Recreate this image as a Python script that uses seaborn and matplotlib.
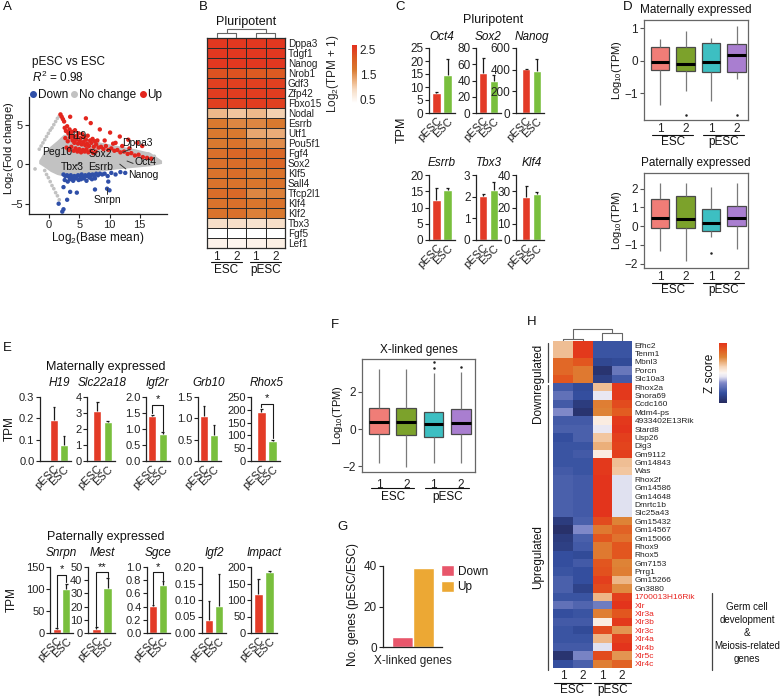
import numpy as np
import pandas as pd
import matplotlib
matplotlib.use("Agg")
import matplotlib.pyplot as plt
from matplotlib.colors import LinearSegmentedColormap
from matplotlib.lines import Line2D
from matplotlib.patches import Patch
from matplotlib.ticker import FormatStrFormatter
import seaborn as sns

# ---------------- data ----------------
# A: MA plot (log2 base mean, log2 fold change)
ma_up_x = [1.9, 2.1, 2.3, 2.5, 3.5, 6.1, 6.9, 8.4, 10.1, 11.7, 13.1, 14.6, 15.4, 11.0,
           2.6, 2.8, 3.0, 3.2, 3.4, 3.6, 3.8, 4.0, 4.3, 4.6, 4.9, 5.2, 5.5, 5.8, 6.1, 6.4, 6.8, 7.2, 7.6, 8.0,
           2.7, 3.1, 3.5, 3.9, 4.2, 4.5, 4.8, 5.1, 5.4, 5.7, 6.0, 6.3, 6.6, 7.0, 7.4, 7.8, 8.2,
           2.9, 3.3, 3.7, 4.1, 4.4, 4.7, 5.0, 5.3, 5.6, 5.9, 6.2, 6.5, 6.9, 7.3, 7.7,
           8.6, 9.0, 9.4, 9.8, 10.3, 10.8, 11.3, 11.8, 12.4, 13.0, 13.6, 14.2, 14.8, 15.5, 16.2, 16.9,
           9.2, 10.6, 12.1, 13.3]
ma_up_y = [6.3, 6.0, 5.7, 5.4, 6.0, 5.8, 5.2, 4.4, 4.0, 3.5, 3.1, 2.7, 2.3, 2.7,
           4.6, 4.2, 4.8, 3.9, 4.4, 3.7, 4.1, 3.5, 4.3, 3.6, 3.9, 3.3, 3.8, 3.4, 3.1, 3.6, 3.0, 3.2, 2.9, 3.0,
           3.3, 2.9, 3.4, 3.0, 2.7, 3.1, 2.6, 2.9, 2.5, 2.8, 2.4, 2.6, 2.3, 2.7, 2.2, 2.5, 2.1,
           2.1, 1.8, 2.2, 1.7, 2.0, 1.6, 1.9, 1.5, 1.8, 1.6, 1.9, 1.5, 1.7, 1.4, 1.6,
           2.2, 1.9, 2.3, 1.8, 2.0, 1.7, 1.8, 1.5, 1.6, 1.3, 1.4, 1.1, 1.2, 0.9, 0.8, 0.7,
           3.0, 2.6, 2.3, 2.0]
ma_down_x = [2.4, 2.7, 3.0, 3.3, 3.6, 3.9, 4.2, 4.5, 4.8, 5.1, 5.4, 5.7, 6.0, 6.3, 6.6, 6.9, 7.2, 7.5, 7.8, 8.1, 8.4, 8.8,
             2.6, 3.1, 3.5, 4.0, 4.4, 4.9, 5.3, 5.8, 6.2, 6.7, 7.1, 7.6,
             9.2, 9.7, 10.3, 11.0, 11.8, 12.6,
             2.4, 3.5, 3.0, 4.6, 7.6, 9.8, 9.6, 10.0, 1.6, 2.4, 2.2]
ma_down_y = [-1.3, -1.5, -1.4, -1.6, -1.4, -1.7, -1.5, -1.6, -1.4, -1.5, -1.3, -1.6, -1.4, -1.5, -1.3, -1.4, -1.3, -1.5, -1.2, -1.4, -1.2, -1.3,
             -2.0, -2.2, -1.9, -2.1, -1.8, -2.0, -1.9, -1.8, -2.1, -1.7, -1.9, -1.8,
             -1.2, -1.5, -1.1, -1.3, -1.0, -1.1,
             -2.9, -3.5, -4.5, -3.6, -3.2, -2.2, -3.1, -3.3, -5.0, -5.7, -6.0]
ma_nc_x = [-1.6, -1.3, -1.0, -0.7, -0.4, -0.1, 0.2, 0.5, 0.8, 1.1, 1.4, 1.7,
           -0.7, -0.4, -0.1, 0.2, 0.5, 0.8, 1.1, 1.4, 1.7,
           -2.3, 17.4, 17.9, 16.4]
ma_nc_y = [1.9, 2.3, 2.7, 3.1, 3.5, 3.9, 4.3, 4.6, 5.0, 5.4, 5.8, 6.1,
           -0.8, -1.3, -1.7, -2.2, -2.7, -3.1, -3.6, -4.0, -4.5,
           -0.6, 1.0, 0.4, 1.3]
# outline of the dense "no change" cloud
cloud_x = [-1.7, -0.9, 0.2, 1.3, 2.4, 5.1, 8.4, 11.1, 13.9, 16.7, 18.6]
cloud_hi = [0.5, 1.5, 2.3, 3.0, 3.8, 3.6, 2.8, 2.4, 2.0, 1.5, 0.5]
cloud_lo = [0.1, -0.3, -0.9, -1.3, -1.5, -1.3, -0.9, -0.6, -0.4, -0.2, 0.1]
ma_genes = ['H19', 'Dppa3', 'Peg10', 'Sox2', 'Oct4', 'Tbx3', 'Esrrb', 'Nanog', 'Snrpn']
ma_lab_x = [4.6, 14.6, 1.3, 8.5, 15.9, 3.9, 8.5, 15.6, 9.7]
ma_lab_y = [3.6, 2.7, 1.5, 1.3, 0.3, -0.4, -0.4, -1.4, -4.5]
ma_leaders = [((12.2, 1.5), (13.4, 1.9)), ((12.9, 0.4), (13.9, 0.1)), ((4.5, -0.2), (5.1, 0.1)),
              ((11.7, 0.0), (12.7, -0.6)), ((9.6, -3.0), (9.6, -3.8))]

# B: pluripotency heatmap, log2(TPM + 1)
pluri_genes = ['Dppa3', 'Tdgf1', 'Nanog', 'Nrob1', 'Gdf3', 'Zfp42', 'Fbxo15', 'Nodal', 'Esrrb', 'Utf1',
               'Pou5f1', 'Fgf4', 'Sox2', 'Klf5', 'Sall4', 'Tfcp2l1', 'Klf4', 'Klf2', 'Tbx3', 'Fgf5', 'Lef1']
pluri_esc1 = [2.6, 2.6, 2.6, 2.3, 2.5, 2.55, 2.5, 1.2, 1.7, 1.7, 1.7, 1.85, 1.85, 1.8, 1.8, 1.9, 1.8, 1.8, 0.85, 0.3, 0.55]
pluri_esc2 = [2.6, 2.6, 2.6, 2.3, 2.5, 2.55, 2.5, 1.1, 1.6, 1.7, 1.8, 2.0, 1.9, 1.9, 1.8, 1.95, 1.85, 1.85, 0.85, 0.3, 0.5]
pluri_pesc1 = [2.6, 2.6, 2.6, 2.2, 2.5, 2.55, 2.55, 1.2, 1.6, 1.35, 1.6, 1.95, 1.85, 1.7, 1.75, 1.6, 1.75, 1.65, 0.8, 0.3, 0.55]
pluri_pesc2 = [2.6, 2.6, 2.6, 2.2, 2.5, 2.55, 2.5, 1.0, 1.7, 1.3, 1.55, 1.95, 2.0, 1.8, 1.8, 1.65, 1.8, 1.7, 0.85, 0.3, 0.6]

# C: pluripotency markers, TPM (mean, sd)
c_genes = ['Oct4', 'Sox2', 'Nanog', 'Esrrb', 'Tbx3', 'Klf4']
c_pesc = [7.7, 49.5, 405, 12.4, 2.03, 26.5]
c_pesc_sd = [0.3, 18, 5, 3.6, 0.1, 6.5]
c_esc = [14.7, 39, 385, 15.5, 2.3, 28.3]
c_esc_sd = [6, 8, 112, 0.4, 0.4, 1.0]
c_ymax = [25, 80, 600, 20, 3, 40]
c_step = [5, 20, 200, 5, 1, 10]

# D / F: box summaries (low whisker, q1, median, q3, high whisker) of log10(TPM)
samples = ['ESC 1', 'ESC 2', 'pESC 1', 'pESC 2']
mat_stats = {'ESC 1': [-1.38, -0.30, -0.03, 0.42, 0.68],
             'ESC 2': [-0.94, -0.33, -0.09, 0.41, 0.92],
             'pESC 1': [-1.24, -0.36, -0.03, 0.54, 0.71],
             'pESC 2': [-0.58, -0.36, 0.18, 0.52, 1.07]}
mat_out = {'ESC 2': [-1.68], 'pESC 2': [-1.68]}
pat_stats = {'ESC 1': [-1.32, -0.09, 0.41, 1.42, 2.31],
             'ESC 2': [-1.85, -0.09, 0.37, 1.62, 2.31],
             'pESC 1': [-0.60, -0.25, 0.18, 0.89, 2.06],
             'pESC 2': [-1.24, 0.00, 0.41, 1.08, 2.28]}
pat_out = {'pESC 1': [-1.42]}
xl_stats = {'ESC 1': [-1.84, -0.29, 0.39, 1.15, 3.23],
            'ESC 2': [-2.05, -0.32, 0.38, 1.12, 3.23],
            'pESC 1': [-1.84, -0.43, 0.27, 0.94, 3.00],
            'pESC 2': [-1.82, -0.29, 0.34, 1.08, 3.10]}
xl_out = {'pESC 1': [3.28, 3.64], 'pESC 2': [3.37]}

# E: imprinted genes, TPM (mean, sd)
mat_genes = ['H19', 'Slc22a18', 'Igf2r', 'Grb10', 'Rhox5']
mat_pesc = [0.19, 3.15, 1.40, 1.06, 190]
mat_pesc_sd = [0.065, 0.55, 0.05, 0.23, 15]
mat_esc = [0.077, 2.45, 0.83, 0.62, 77]
mat_esc_sd = [0.04, 0.05, 0.07, 0.23, 6]
mat_ymax = [0.3, 4, 2.0, 1.5, 250]
mat_step = [0.1, 1, 0.5, 0.5, 50]
mat_fmt = ['%.1f', '%d', '%.1f', '%.1f', '%d']
mat_sig = {'Igf2r': ('*', 1.75), 'Rhox5': ('*', 222)}
pat_genes = ['Snrpn', 'Mest', 'Sgce', 'Igf2', 'Impact']
pat_pesc = [9, 3, 0.41, 0.04, 118]
pat_pesc_sd = [1.5, 1.2, 0.01, 0.057, 45]
pat_esc = [99, 34, 0.72, 0.082, 186]
pat_esc_sd = [13, 7.5, 0.07, 0.097, 1]
pat_ymax = [150, 50, 1.0, 0.20, 200]
pat_step = [50, 10, 0.2, 0.05, 50]
pat_fmt = ['%d', '%d', '%.1f', '%.2f', '%d']
pat_sig = {'Snrpn': ('*', 132), 'Mest': ('**', 46), 'Sgce': ('*', 0.92)}

# G: X-linked DEGs
g_dir = ['Down', 'Up']
g_count = [5, 39]

# H: X-linked DEG heatmap, z score
h_genes = ['Efhc2', 'Tenm1', 'Mbnl3', 'Porcn', 'Slc10a3', 'Rhox2a', 'Snora69', 'Ccdc160', 'Mdm4-ps',
           '4933402E13Rik', 'Stard8', 'Usp26', 'Dlg3', 'Gm9112', 'Gm14843', 'Was', 'Rhox2f', 'Gm14586',
           'Gm14648', 'Dmrtc1b', 'Slc25a43', 'Gm15432', 'Gm14567', 'Gm15066', 'Rhox9', 'Rhox5', 'Gm7153',
           'Prrg1', 'Gm15266', 'Gn3880', '1700013H16Rik', 'Xlr', 'Xlr3a', 'Xlr3b', 'Xlr3c', 'Xlr4a',
           'Xlr4b', 'Xlr5c', 'Xlr4c']
h_esc1 = [0.45, 0.45, 1.05, 1.05, 1.2, -0.9, -0.7, -0.9, -0.5, -0.9, -0.85, -1.0, -0.95, -0.95, -0.95,
          -0.9, -0.85, -0.85, -0.85, -0.85, -0.85, -1.25, -1.4, -1.25, -1.2, -1.0, -1.0, -0.95, -0.85,
          -0.85, -0.95, -0.7, -1.0, -0.9, -0.95, -0.95, -0.9, -1.35, -1.0]
h_esc2 = [1.45, 1.45, 1.2, 0.9, 0.9, -1.05, -1.0, -1.25, -1.35, -0.9, -0.85, -0.85, -0.95, -0.9, -0.95,
          -0.95, -0.9, -0.9, -0.9, -0.9, -0.9, -0.85, -0.5, -0.85, -0.9, -1.05, -0.9, -1.0, -1.0,
          -1.15, -0.95, -0.8, -0.95, -0.9, -1.05, -0.95, -0.9, -0.55, -0.85]
h_pesc1 = [-0.95, -0.95, -1.1, -1.35, -1.2, 0.45, -0.15, 0.85, 0.8, 0.1, -0.15, 0.4, 0.55, 0.1, 1.45,
           1.45, 1.5, 1.5, 1.5, 1.5, 1.5, 1.3, 0.9, 1.2, 0.9, 0.9, 1.2, 1.25, 1.4,
           1.3, 0.5, -0.6, 0.85, 0.1, 1.3, 0.5, -0.2, 1.3, 0.85]
h_pesc2 = [-0.95, -0.95, -1.05, -0.65, -0.9, 1.45, 1.45, 1.3, 1.15, 1.45, 1.5, 1.4, 1.35, 1.4, 0.45,
           0.4, -0.2, -0.2, -0.2, -0.2, -0.2, 0.8, 1.1, 0.95, 1.2, 1.2, 0.8, 0.85, 0.5,
           0.75, 1.4, 1.5, 1.2, 1.45, 0.7, 1.4, 1.5, 0.7, 1.1]
h_n_down = 5
h_germ_from = 30

# ---------------- style ----------------
sns.set_theme(style="ticks")
plt.rcParams['font.family'] = ['Liberation Sans', 'DejaVu Sans']
plt.rcParams['mathtext.fontset'] = 'custom'
plt.rcParams['mathtext.rm'] = 'Liberation Sans'
plt.rcParams['mathtext.it'] = 'Liberation Sans:italic'
plt.rcParams['axes.linewidth'] = 0.9
plt.rcParams['axes.edgecolor'] = '#222222'
plt.rcParams['xtick.color'] = '#222222'
plt.rcParams['ytick.color'] = '#222222'
plt.rcParams['text.color'] = '#111111'

RED, GREEN = '#e33b27', '#79bf3d'
MA_RED, MA_BLUE, MA_GREY = '#e3261e', '#2f4fa8', '#c2c2c2'
BOX_COLORS = ['#f07d77', '#7ca22b', '#3dbfc2', '#a97ed0']
G_COLORS = ['#e8566b', '#eca834']
GERM_RED = '#e8231f'
cmap_b = LinearSegmentedColormap.from_list(
    'pluri', [(0.0, '#ffffff'), (0.23, '#f6dcc4'), (0.36, '#eeb88a'), (0.58, '#d9782e'),
              (0.79, '#dc5a22'), (1.0, '#e3301f')])
cmap_h = LinearSegmentedColormap.from_list(
    'zscore', [(0.0, '#252a5e'), (0.167, '#344f9f'), (0.333, '#7f88c8'), (0.433, '#e2e2f1'),
               (0.5, '#fbf6f3'), (0.6, '#f7d8bd'), (0.767, '#de8436'), (0.9, '#e2571f'), (1.0, '#e3341c')])

W, H = 780, 697
fig = plt.figure(figsize=(W / 100, H / 100), dpi=100)


def px_axes(x0, y0, x1, y1):
    return fig.add_axes([x0 / W, 1 - y1 / H, (x1 - x0) / W, (y1 - y0) / H])


def px_text(x, y, s, **kw):
    kw.setdefault('ha', 'center')
    kw.setdefault('va', 'center')
    return fig.text(x / W, 1 - y / H, s, **kw)


def px_vline(x, y0, y1, **kw):
    fig.add_artist(Line2D([x / W, x / W], [1 - y0 / H, 1 - y1 / H], transform=fig.transFigure, **kw))


def group_marks(ax, top, bottom, spans, y_line, y_text, fs):
    h = bottom - top
    tr = ax.get_xaxis_transform()
    for a, b, name in spans:
        ax.plot([a, b], [-(y_line - bottom) / h] * 2, transform=tr, clip_on=False, color='#111111', lw=0.8)
        ax.text((a + b) / 2, -(y_text - bottom) / h, name, transform=tr, ha='center', va='center', fontsize=fs)


def dendro(rect, h_left, h_right, h_root):
    ax = px_axes(*rect)
    ax.set_xlim(0, 4)
    ax.set_ylim(0, 1)
    ax.axis('off')
    kw = dict(color='#666666', lw=0.8)
    ax.plot([0.5, 0.5, 1.5, 1.5], [0, h_left, h_left, 0], **kw)
    ax.plot([2.5, 2.5, 3.5, 3.5], [0, h_right, h_right, 0], **kw)
    ax.plot([1, 1, 3, 3], [h_left, h_root, h_root, h_right], **kw)


def bar_pair(spine, bar_l, bar_r, top, bottom, gene, vals, errs, ymax, step, fmt, title_y, tick_fs, sig=None):
    groups = ['pESC', 'ESC']
    ppu = (bar_r - bar_l) / 1.8
    ax = px_axes(spine, top, bar_r + 3, bottom)
    sns.barplot(x=groups, y=vals, hue=groups, palette=[RED, GREEN], saturation=1, width=0.8,
                legend=False, ax=ax)
    tops = [v + e for v, e in zip(vals, errs)]
    ax.vlines([0, 1], vals, tops, color='#1a1a1a', lw=0.9)
    ax.hlines(tops, [-0.14, 0.86], [0.14, 1.14], color='#1a1a1a', lw=0.9)
    if sig is not None:
        label, yb = sig
        gap = ymax * 0.02
        ax.plot([0, 0, 1, 1], [tops[0] + gap, yb, yb, tops[1] + gap], color='#1a1a1a', lw=0.8, clip_on=False)
        ax.text(0.5, yb + ymax * 0.01, label, ha='center', va='bottom', fontsize=8)
    ax.set_xlim(-0.4 - (bar_l - spine) / ppu, 1.4 + 3 / ppu)
    ax.set_ylim(0, ymax)
    ax.set_yticks(np.arange(0, ymax + step / 2, step))
    ax.yaxis.set_major_formatter(FormatStrFormatter(fmt))
    ax.set_xticks([0, 1])
    ax.set_xticklabels(groups, rotation=45, ha='right', rotation_mode='anchor')
    ax.tick_params(axis='x', length=0, labelsize=8, pad=2)
    ax.tick_params(axis='y', length=3, width=0.8, labelsize=tick_fs, pad=1)
    ax.set_xlabel('')
    ax.set_ylabel('')
    sns.despine(ax=ax)
    px_text((bar_l + bar_r) / 2, title_y, gene, style='italic', fontsize=8.5)
    return ax


def box_panel(rect, stats, outl, ylim, yticks, xlim, title, title_y, ylab_x, y12, y_line, y_grp):
    x0, y0, x1, y1 = rect
    ax = px_axes(*rect)
    df = pd.DataFrame([(s, v) for s in samples for v in stats[s]], columns=['sample', 'value'])
    sns.boxplot(data=df, x='sample', y='value', hue='sample', order=samples, hue_order=samples,
                palette=BOX_COLORS, saturation=1, width=0.73, whis=(0, 100), showfliers=False,
                showcaps=False, linecolor='#4a4a4a', linewidth=0.9,
                medianprops={'color': 'black', 'linewidth': 2.2},
                whiskerprops={'color': '#7a7a7a', 'linewidth': 0.9}, legend=False, ax=ax)
    odf = pd.DataFrame([(s, v) for s in outl for v in outl[s]], columns=['sample', 'value'])
    sns.stripplot(data=odf, x='sample', y='value', order=samples, color='#222222', size=1.8,
                  jitter=False, ax=ax)
    ax.set_xlim(*xlim)
    ax.set_ylim(*ylim)
    ax.set_yticks(yticks)
    ax.set_xticks(range(4))
    ax.set_xticklabels(['1', '2', '1', '2'])
    ax.tick_params(axis='x', length=0, labelsize=8.5, pad=(y12 - y1) - 5)
    ax.tick_params(axis='y', length=3, width=0.8, color='#555555', labelsize=8.5, pad=1.5)
    for s in ax.spines.values():
        s.set_visible(True)
        s.set_color('#666666')
        s.set_linewidth(0.9)
    ax.set_xlabel('')
    ax.set_ylabel('')
    px_text((x0 + x1) / 2, title_y, title, fontsize=8.5)
    px_text(ylab_x, (y0 + y1) / 2, 'Log$_{10}$(TPM)', rotation=90, fontsize=8)
    group_marks(ax, y0, y1, [(-0.3, 1.3, 'ESC'), (1.7, 3.3, 'pESC')], y_line, y_grp, 8.5)
    return ax


# ---------------- panel letters ----------------
for letter, lx, ly in [('A', 7, 7), ('B', 203, 7), ('C', 400, 7), ('D', 628, 7),
                       ('E', 7, 348), ('F', 335, 325), ('G', 343, 527), ('H', 532, 322)]:
    px_text(lx, ly, letter, fontsize=9.5)

# ---------------- A ----------------
ax = px_axes(29, 97, 167, 214)
ax.fill_between(cloud_x, cloud_lo, cloud_hi, color=MA_GREY, lw=0)
ma_df = pd.concat([
    pd.DataFrame({'x': ma_nc_x, 'y': ma_nc_y, 'change': 'No change', 'sz': 7}),
    pd.DataFrame({'x': ma_up_x, 'y': ma_up_y, 'change': 'Up', 'sz': 10}),
    pd.DataFrame({'x': ma_down_x, 'y': ma_down_y, 'change': 'Down', 'sz': 10}),
])
sns.scatterplot(data=ma_df, x='x', y='y', hue='change',
                palette={'No change': MA_GREY, 'Up': MA_RED, 'Down': MA_BLUE},
                s=ma_df['sz'].to_numpy(), linewidth=0, legend=False, ax=ax)
for g, tx, ty in zip(ma_genes, ma_lab_x, ma_lab_y):
    ax.text(tx, ty, g, ha='center', va='center', fontsize=7.5)
for (a, b) in ma_leaders:
    ax.plot([a[0], b[0]], [a[1], b[1]], color='#333333', lw=0.7)
ax.set_xlim(-3.3, 19.5)
ax.set_ylim(-6.3, 8.5)
ax.set_xticks([0, 5, 10, 15])
ax.set_yticks([-5, 0, 5])
ax.tick_params(length=3, width=0.8, labelsize=8, pad=1.5)
ax.set_xlabel('')
ax.set_ylabel('')
sns.despine(ax=ax)
px_text(98, 238, 'Log$_2$(Base mean)', fontsize=8.5)
px_text(9, 148, 'Log$_2$(Fold change)', rotation=90, fontsize=8)
px_text(32, 62, 'pESC vs ESC', ha='left', fontsize=8.5)
px_text(32, 77, '$R^2$ = 0.98', ha='left', fontsize=8.5)
ax.legend(handles=[Line2D([], [], ls='', marker='o', ms=4, color=MA_BLUE, label='Down'),
                   Line2D([], [], ls='', marker='o', ms=4, color=MA_GREY, label='No change'),
                   Line2D([], [], ls='', marker='o', ms=4, color=MA_RED, label='Up')],
          ncol=3, loc='lower left', bbox_to_anchor=(30 / W, 1 - 101 / H), bbox_transform=fig.transFigure,
          frameon=False, handlelength=0.5, handletextpad=0.15, columnspacing=0.3,
          borderaxespad=0, borderpad=0, fontsize=8.5)

# ---------------- B ----------------
b_df = pd.DataFrame({'ESC 1': pluri_esc1, 'ESC 2': pluri_esc2, 'pESC 1': pluri_pesc1,
                     'pESC 2': pluri_pesc2}, index=pluri_genes)
ax = px_axes(207, 38, 285, 248)
cax = px_axes(352, 45, 357, 103)
sns.heatmap(b_df, ax=ax, cmap=cmap_b, vmin=0.35, vmax=2.7, linewidths=0.6, linecolor='#2b2b2b',
            cbar_ax=cax, xticklabels=['1', '2', '1', '2'], yticklabels=pluri_genes)
ax.yaxis.tick_right()
ax.tick_params(axis='y', length=0, labelsize=7.2, pad=2, rotation=0)
ax.tick_params(axis='x', length=0, labelsize=8.5, pad=2, rotation=0)
for s in ax.spines.values():
    s.set_visible(True)
    s.set_linewidth(0.9)
    s.set_color('#2b2b2b')
group_marks(ax, 38, 248, [(0.2, 1.8, 'ESC'), (2.2, 3.8, 'pESC')], 262, 270, 8.5)
cax.set_yticks([0.5, 1.5, 2.5])
cax.tick_params(length=0, labelsize=8.5, pad=2)
cax.yaxis.set_label_position('left')
cax.set_ylabel('Log$_2$(TPM + 1)', fontsize=8.5, labelpad=8)
px_text(246, 22, 'Pluripotent', fontsize=9)
dendro((207, 28, 285, 38), 0.5, 0.5, 0.9)

# ---------------- C ----------------
c_layout = [(429, 432, 452, 48, 113, 37), (476, 479, 498, 48, 113, 37), (516, 522, 541, 48, 113, 37),
            (429, 432, 452, 175, 240, 163), (476, 479, 498, 175, 240, 163), (516, 522, 541, 175, 240, 163)]
for i, (sp, bl, br, t, b, ty) in enumerate(c_layout):
    bar_pair(sp, bl, br, t, b, c_genes[i], [c_pesc[i], c_esc[i]], [c_pesc_sd[i], c_esc_sd[i]],
             c_ymax[i], c_step[i], '%d', ty, 8.5)
px_text(493, 20, 'Pluripotent', fontsize=9)
px_text(402, 130, 'TPM', rotation=90, fontsize=9)

# ---------------- D ----------------
box_panel((644, 20, 748, 120), mat_stats, mat_out, (-1.83, 1.25), [-1, 0, 1], (-0.63, 3.45),
          'Maternally expressed', 10, 617, 127, 135, 142)
box_panel((644, 173, 748, 268), pat_stats, pat_out, (-2.24, 2.83), [-2, -1, 0, 1, 2], (-0.63, 3.45),
          'Paternally expressed', 163, 617, 275, 283, 290)

# ---------------- E ----------------
mat_layout = [(40, 50, 68), (87, 93, 112), (146, 148, 167), (198, 200, 218), (251, 257, 277)]
for i, (sp, bl, br) in enumerate(mat_layout):
    bar_pair(sp, bl, br, 397, 461, mat_genes[i], [mat_pesc[i], mat_esc[i]],
             [mat_pesc_sd[i], mat_esc_sd[i]], mat_ymax[i], mat_step[i], mat_fmt[i], 383, 8,
             sig=mat_sig.get(mat_genes[i]))
pat_layout = [(50, 53, 70), (88, 92, 112), (147, 149, 167), (202, 205, 223), (251, 254, 274)]
for i, (sp, bl, br) in enumerate(pat_layout):
    bar_pair(sp, bl, br, 567, 633, pat_genes[i], [pat_pesc[i], pat_esc[i]],
             [pat_pesc_sd[i], pat_esc_sd[i]], pat_ymax[i], pat_step[i], pat_fmt[i], 553, 8,
             sig=pat_sig.get(pat_genes[i]))
px_text(106, 367, 'Maternally expressed', fontsize=9)
px_text(106, 537, 'Paternally expressed', fontsize=9)
px_text(10, 429, 'TPM', rotation=90, fontsize=8.5)
px_text(12, 600, 'TPM', rotation=90, fontsize=8.5)

# ---------------- F ----------------
box_panel((362, 359, 475, 472), xl_stats, xl_out, (-2.32, 3.78), [-2, 0, 2], (-0.62, 3.52),
          'X-linked genes', 350, 338, 482, 488, 497)

# ---------------- G ----------------
ax = px_axes(383, 566, 442, 647)
sns.barplot(x=['X-linked genes'] * 2, y=g_count, hue=g_dir, palette=G_COLORS, saturation=1,
            width=0.8, legend=False, ax=ax)
ax.set_xlim(-0.57, 0.55)
ax.set_ylim(0, 40)
ax.set_yticks([0, 20, 40])
ax.tick_params(axis='x', length=0, labelsize=8.5, pad=6)
ax.tick_params(axis='y', length=3, width=0.8, labelsize=8.5, pad=1.5)
ax.set_xlabel('')
ax.set_ylabel('')
sns.despine(ax=ax)
ax.legend(handles=[Patch(facecolor=G_COLORS[0], edgecolor='white', label='Down'),
                   Patch(facecolor=G_COLORS[1], edgecolor='white', label='Up')],
          loc='upper left', bbox_to_anchor=(441 / W, 1 - 565 / H), bbox_transform=fig.transFigure,
          frameon=False, handlelength=1.1, handleheight=1.1, handletextpad=0.3, labelspacing=0.25,
          borderaxespad=0, borderpad=0, fontsize=8.5)
px_text(353, 605, 'No. genes (pESC/ESC)', rotation=90, fontsize=8.5)

# ---------------- H ----------------
h_df = pd.DataFrame({'ESC 1': h_esc1, 'ESC 2': h_esc2, 'pESC 1': h_pesc1, 'pESC 2': h_pesc2},
                    index=h_genes)
ax = px_axes(553, 341, 632, 668)
cax = px_axes(719, 343, 727, 403)
sns.heatmap(h_df, ax=ax, cmap=cmap_h, vmin=-1.5, vmax=1.5, cbar_ax=cax,
            xticklabels=['1', '2', '1', '2'], yticklabels=h_genes)
ax.yaxis.tick_right()
ax.tick_params(axis='y', length=0, labelsize=6, pad=2, rotation=0)
ax.tick_params(axis='x', length=0, labelsize=8.5, pad=1.5, rotation=0)
for i, lab in enumerate(ax.get_yticklabels()):
    if i >= h_germ_from:
        lab.set_color(GERM_RED)
group_marks(ax, 341, 668, [(0.05, 1.9, 'ESC'), (2.1, 3.95, 'pESC')], 683, 690, 8.5)
cax.set_yticks([])
px_text(710, 373, 'Z score', rotation=90, fontsize=8.5)
dendro((553, 328, 632, 341), 0.15, 0.62, 0.92)
row_h = (668 - 341) / len(h_genes)
px_vline(548, 343, 341 + h_n_down * row_h - 1, color='#444444', lw=0.9)
px_vline(548, 341 + h_n_down * row_h + 2, 670, color='#444444', lw=0.9)
px_text(538, 383, 'Downregulated', rotation=90, fontsize=8.5)
px_text(538, 557, 'Upregulated', rotation=90, fontsize=8.5)
px_vline(712, 341 + h_germ_from * row_h, 670, color='#444444', lw=0.9)
px_text(747, 633, 'Germ cell\ndevelopment\n&\nMeiosis-related\ngenes', fontsize=7, linespacing=1.35)

fig.savefig('out.png', dpi=100)
